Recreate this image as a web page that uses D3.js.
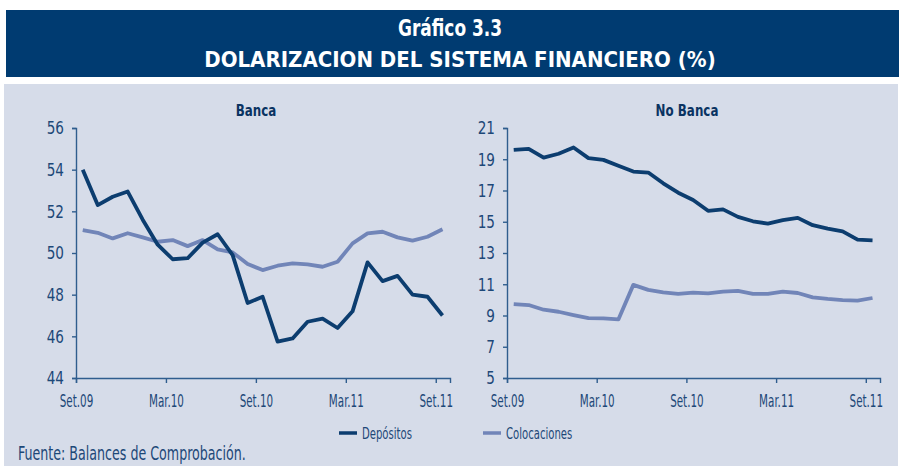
<!DOCTYPE html>
<meta charset="utf-8">
<title>Dolarizacion del sistema financiero</title>

<style>
body{
	margin: 0;
	background: white;
}
text{
	font-family: "DejaVu Sans Condensed", "DejaVu Sans", sans-serif;
}
</style>

<body>

<script src="https://d3js.org/d3.v7.min.js"></script>

<script>

var width = 899;
var height = 466;

// meses Set.09 .. Set.11
var months = ['Set.09','Oct.09','Nov.09','Dic.09','Ene.10','Feb.10','Mar.10','Abr.10','May.10','Jun.10','Jul.10','Ago.10',
	'Set.10','Oct.10','Nov.10','Dic.10','Ene.11','Feb.11','Mar.11','Abr.11','May.11','Jun.11','Jul.11','Ago.11','Set.11'];
var ticklabels = ['Set.09','Mar.10','Set.10','Mar.11','Set.11'];

var bancaDepositos = [54.0, 52.3, 52.7, 52.95, 51.6, 50.4, 49.7, 49.75, 50.5, 50.9, 49.9, 47.6, 47.9,
	45.75, 45.9, 46.7, 46.85, 46.4, 47.2, 49.55, 48.65, 48.9, 48.0, 47.9, 47.0];
var bancaColocaciones = [51.1, 50.97, 50.7, 50.95, 50.75, 50.54, 50.62, 50.33, 50.62, 50.17, 50.03, 49.47, 49.18,
	49.39, 49.5, 49.45, 49.34, 49.58, 50.46, 50.94, 51.02, 50.75, 50.59, 50.78, 51.14];

var noBancaDepositos = [19.6, 19.67, 19.1, 19.35, 19.75, 19.07, 18.96, 18.58, 18.21, 18.15, 17.46, 16.86, 16.39,
	15.7, 15.79, 15.31, 15.03, 14.88, 15.1, 15.25, 14.78, 14.56, 14.39, 13.85, 13.81];
var noBancaColocaciones = [9.73, 9.67, 9.37, 9.24, 9.03, 8.83, 8.81, 8.75, 10.96, 10.64, 10.48, 10.38, 10.46,
	10.42, 10.53, 10.57, 10.38, 10.38, 10.53, 10.44, 10.16, 10.06, 9.99, 9.95, 10.12];

var bancaTicks = [44, 46, 48, 50, 52, 54, 56];
var noBancaTicks = [5, 7, 9, 11, 13, 15, 17, 19, 21];

var bannercolor = '#003b71';
var panelcolor = '#d6dce9';
var darkline = '#0c3d6f';
var lightline = '#7185b8';
var axiscolor = '#2f5d8e';
var textcolor = '#1d4878';

// narrow the text to the condensed look of the original
function squeeze(sel, k){
	sel.each(function(){
		var w = this.getComputedTextLength();
		d3.select(this)
			.attr('textLength', w * k)
			.attr('lengthAdjust', 'spacingAndGlyphs');
	});
}

var svg = d3.select('body')
	.append('svg')
	.attr('width', width)
	.attr('height', height);

// banner
svg.append('rect')
	.attr('x', 6).attr('y', 10)
	.attr('width', width - 6).attr('height', 67)
	.attr('fill', bannercolor);

svg.append('text')
	.attr('x', 450).attr('y', 36)
	.attr('text-anchor', 'middle')
	.attr('fill', 'white')
	.attr('font-weight', 'bold')
	.attr('font-size', 23)
	.text('Gráfico 3.3')
	.call(squeeze, 0.82);

svg.append('text')
	.attr('x', 460).attr('y', 67)
	.attr('text-anchor', 'middle')
	.attr('fill', 'white')
	.attr('font-weight', 'bold')
	.attr('font-size', 22)
	.text('DOLARIZACION DEL SISTEMA FINANCIERO (%)');

// panel
svg.append('rect')
	.attr('x', 4).attr('y', 84)
	.attr('width', width - 5).attr('height', height - 84)
	.attr('fill', panelcolor);

function drawpanel(title, x0, x1, ydomain, yticks, dep, col, titlex){
	var x = d3.scaleLinear().domain([-0.45, 24.5]).range([x0, x1]);
	var y = d3.scaleLinear().domain(ydomain).range([378, 128]);
	var g = svg.append('g');

	g.append('text')
		.attr('x', titlex).attr('y', 116)
		.attr('text-anchor', 'middle')
		.attr('fill', '#0a3362')
		.attr('font-weight', 'bold')
		.attr('font-size', 15)
		.text(title)
		.call(squeeze, 0.88);

	var yaxis = g.append('g')
		.attr('transform', 'translate(' + x0 + ',0)')
		.call(d3.axisLeft(y).tickValues(yticks).tickSize(4).tickPadding(8).tickFormat(d3.format('d')));

	var xaxis = g.append('g')
		.attr('transform', 'translate(0,378)')
		.call(d3.axisBottom(x)
			.tickValues(ticklabels.map(function(d){ return months.indexOf(d) - 0.45; }))
			.tickSize(5).tickPadding(11)
			.tickFormat(function(d, i){ return ticklabels[i]; }));

	[yaxis, xaxis].forEach(function(a){
		a.select('.domain').attr('stroke', axiscolor).attr('stroke-width', 1.4);
		a.selectAll('.tick line').attr('stroke', axiscolor).attr('stroke-width', 1.4);
		a.selectAll('.tick text')
			.attr('fill', textcolor)
			.attr('font-family', '"DejaVu Sans Condensed", "DejaVu Sans", sans-serif');
	});
	yaxis.selectAll('.tick text').attr('font-size', 18).call(squeeze, 0.84);
	xaxis.selectAll('.tick text').attr('font-size', 18).call(squeeze, 0.64);

	var line = d3.line()
		.x(function(d, i){ return x(i); })
		.y(function(d){ return y(d); });

	g.append('path')
		.datum(col)
		.attr('d', line)
		.attr('fill', 'none')
		.attr('stroke', lightline)
		.attr('stroke-width', 3.8)
		.attr('stroke-linejoin', 'round');

	g.append('path')
		.datum(dep)
		.attr('d', line)
		.attr('fill', 'none')
		.attr('stroke', darkline)
		.attr('stroke-width', 3.8)
		.attr('stroke-linejoin', 'round');
}

drawpanel('Banca', 76, 450, [44, 56], bancaTicks, bancaDepositos, bancaColocaciones, 256);
drawpanel('No Banca', 507, 880, [5, 21], noBancaTicks, noBancaDepositos, noBancaColocaciones, 687);

// leyenda
var legend = [
	{name: 'Depósitos', color: darkline, x: 339},
	{name: 'Colocaciones', color: lightline, x: 483}
];

var lg = svg.selectAll('.legend')
	.data(legend)
	.enter()
	.append('g')
	.attr('class', 'legend')
	.attr('transform', function(d){ return 'translate(' + d.x + ',433)'; });

lg.append('line')
	.attr('x1', 0).attr('x2', 18)
	.attr('stroke', function(d){ return d.color; })
	.attr('stroke-width', 3.5);

lg.append('text')
	.attr('x', 23).attr('y', 6)
	.attr('fill', textcolor)
	.attr('font-size', 16)
	.text(function(d){ return d.name; })
	.call(squeeze, 0.7);

svg.append('text')
	.attr('x', 18).attr('y', 460)
	.attr('fill', textcolor)
	.attr('font-size', 19)
	.text('Fuente: Balances de Comprobación.')
	.call(squeeze, 0.74);

</script>
</body>
